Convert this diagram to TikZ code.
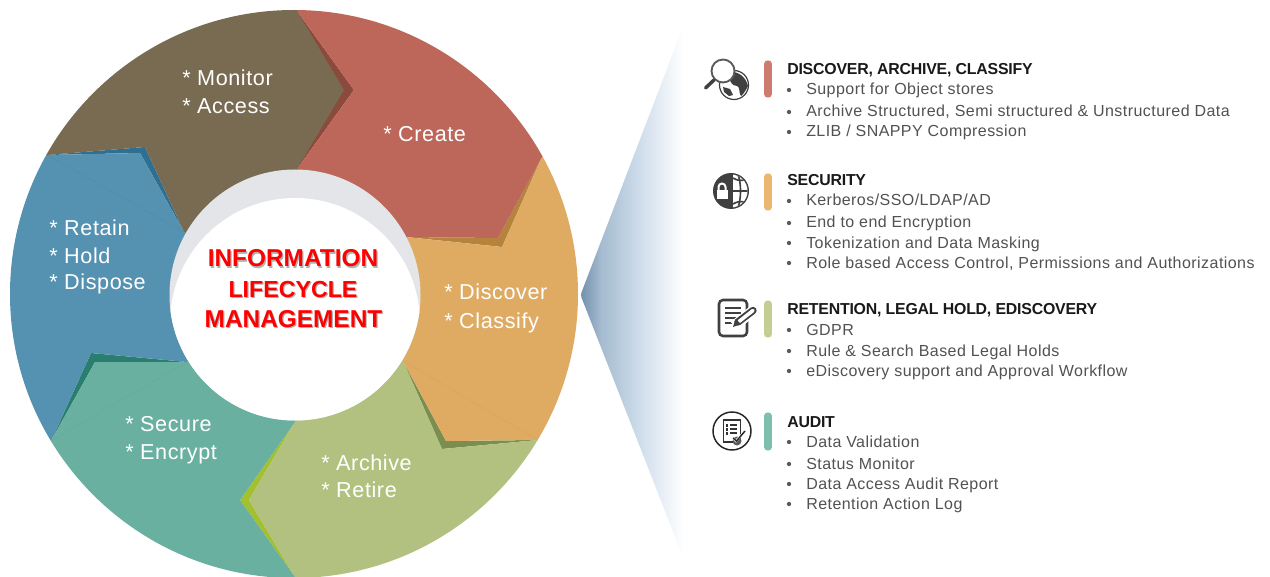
\documentclass[tikz,border=0pt]{standalone}
\usepackage{fontspec}
\setmainfont{Liberation Sans}
\newfontfamily\lifont[LetterSpace=2.8]{Liberation Sans}
\newfontfamily\segfont[LetterSpace=2.7]{Liberation Sans}
\newfontfamily\hdfont[LetterSpace=-1.3]{Liberation Sans Bold}
\definecolor{cbrown}{HTML}{786B52}
\definecolor{cred}{HTML}{BC675A}
\definecolor{corange}{HTML}{DFAB63}
\definecolor{cgreen}{HTML}{B3C180}
\definecolor{cteal}{HTML}{6AB0A0}
\definecolor{cblue}{HTML}{5591B1}
\definecolor{sred}{HTML}{8C4A3C}
\definecolor{sorange}{HTML}{B5833C}
\definecolor{sgreen}{HTML}{7A8F4F}
\definecolor{slime}{HTML}{A3C030}
\definecolor{steal}{HTML}{2A7E6F}
\definecolor{sblue}{HTML}{2F6F92}
\definecolor{ring}{HTML}{E3E5E8}
\definecolor{ictxt}{HTML}{404040}
\definecolor{fa}{HTML}{7490AC}
\definecolor{fb}{HTML}{A5BBD0}
\definecolor{fc}{HTML}{CFDDEB}
\pgfdeclarehorizontalshading{funnelshade}{100bp}{color(0bp)=(fa);color(25bp)=(fa);color(35bp)=(fb);color(54bp)=(fc);color(75bp)=(white);color(100bp)=(white)}
\tikzset{
  seg/.style={font=\segfont\fontsize{16.2pt}{18pt}\selectfont,text=white,anchor=base west,inner sep=0pt},
  ctr/.style={font=\bfseries\fontsize{18.3pt}{22pt}\selectfont,text=red,anchor=base,inner sep=0pt},
  ctrs/.style={font=\bfseries\fontsize{18.3pt}{22pt}\selectfont,text=black!30,anchor=base,inner sep=0pt},
  hd/.style={font=\hdfont\fontsize{11.9pt}{14pt}\selectfont,text=black!90,anchor=base west,inner sep=0pt},
  li/.style={font=\lifont\fontsize{12pt}{14pt}\selectfont,text=black!68,anchor=base west,inner sep=0pt},
  bul/.style={circle,fill=black!65,inner sep=0pt,minimum size=3.2pt},
  bar/.style={line width=5.5pt,line cap=round},
  ic/.style={draw=ictxt,line width=1.2pt},
  icf/.style={fill=ictxt},
  seam/.style={line width=0.3pt},
}
\newcommand{\bl}[3]{\node[li] (#1) at (806,#2) {#3};\node[bul] (#1b) at (789,#2-5) {};}
\begin{document}
\begin{tikzpicture}[x=0.75pt,y=-0.75pt]
\useasboundingbox (0,0) rectangle (1270,577);
\fill[white] (0,0) rectangle (1270,577);
% funnel
\shade[shading=funnelshade,rounded corners=2pt] (580.5,295) -- (683,27) -- (683,557) -- cycle;
% wheel
\begin{scope}
\clip (294,294) circle[radius=284];
\fill[sred] (297,11) -- (354,90) -- (297,169) -- cycle;
\fill[sorange] (406,237) -- (502,247) -- (541.5,158) -- (498,238) -- cycle;
\fill[sgreen] (403,361) -- (442,449) -- (538,440) -- (446,441) -- cycle;
\fill[slime] (295,422) -- (240,500) -- (295,577) -- (249,500) -- cycle;
\fill[steal] (187,362) -- (91,353) -- (51,441) -- (95,362) -- cycle;
\fill[sblue] (47,155) -- (145,147) -- (184,232) -- (140,153) -- cycle;
\fill[cred] (297,-100) -- (700,-100) -- (664,90) -- (541.5,158) -- (498,238) -- (406,237) -- (295,295) -- (297,169) -- (354,90) -- (297,11) -- cycle;
\fill[corange] (664,90) -- (750,90) -- (750,513) -- (660,513) -- (538,440) -- (446,441) -- (403,361) -- (295,295) -- (406,237) -- (502,247) -- (541.5,158) -- cycle;
\fill[cgreen] (660,513) -- (660,700) -- (295,700) -- (295,577) -- (249,500) -- (295,422) -- (295,295) -- (403,361) -- (442,449) -- (538,440) -- cycle;
\fill[cteal] (295,700) -- (-100,700) -- (-70,514) -- (51,441) -- (95,362) -- (187,362) -- (295,295) -- (295,422) -- (240,500) -- (295,577) -- cycle;
\fill[cblue] (-70,514) -- (-150,514) -- (-150,85) -- (-76,85) -- (47,155) -- (140,153) -- (184,232) -- (295,295) -- (187,362) -- (91,353) -- (51,441) -- cycle;
\fill[cbrown] (-76,85) -- (-150,-100) -- (297,-100) -- (297,11) -- (344,90) -- (297,169) -- (295,295) -- (184,232) -- (145,147) -- (47,155) -- cycle;
% faint seams
\draw[seam,cbrown!93!cred] (297,11) -- (297,169);
\draw[seam,cblue!96!black] (47,155) -- (184,232);
\draw[seam,cteal!96!black] (51,441) -- (187,362);
\draw[seam,corange!96!black] (403,361) -- (538,440);
\end{scope}
% hub
\fill[ring] (295,295) circle[radius=125.5];
\begin{scope}
\clip (295,295) circle[radius=125.5];
\fill[white] (295,323) circle[radius=125];
\end{scope}
% segment labels
\node[seg] (m1) at (182,86) {* Monitor};
\node[seg] (m2) at (182,114) {* Access};
\node[seg] (c1) at (383,142) {* Create};
\node[seg] (r1) at (49,236) {* Retain};
\node[seg] (r2) at (49,263) {* Hold};
\node[seg] (r3) at (49,290) {* Dispose};
\node[seg] (d1) at (444,300) {* Discover};
\node[seg] (d2) at (444,328) {* Classify};
\node[seg] (s1) at (125,431) {* Secure};
\node[seg] (s2) at (125,459) {* Encrypt};
\node[seg] (a1) at (321,470) {* Archive};
\node[seg] (a2) at (321,497) {* Retire};
% title
\node[ctrs] (t1s) at (294.2,268.4) {INFORMATION};
\node[ctrs,font=\bfseries\fontsize{17.4pt}{22pt}\selectfont] (t2s) at (294.2,298.9) {LIFECYCLE};
\node[ctrs] (t3s) at (294.7,328.9) {MANAGEMENT};
\node[ctr] (t1) at (293,267) {INFORMATION};
\node[ctr,font=\bfseries\fontsize{17.4pt}{22pt}\selectfont] (t2) at (293,297.5) {LIFECYCLE};
\node[ctr] (t3) at (293.5,327.5) {MANAGEMENT};
% bars
\draw[bar,color={rgb,255:red,205;green,123;blue,110}] (768,64) -- (768,94);
\draw[bar,color={rgb,255:red,232;green,184;blue,111}] (768,177) -- (768,207);
\draw[bar,color={rgb,255:red,195;green,207;blue,146}] (768,304) -- (768,334);
\draw[bar,color={rgb,255:red,124;green,191;blue,172}] (768,416) -- (768,447);
% icon 1
\draw[ictxt,line width=0.9pt] (734,85) circle[radius=14.5];
\fill[icf] (730,72) .. controls (738,71) and (746,77) .. (748,86) .. controls (746,90) and (743,95) .. (741,96) .. controls (738,92) and (741,88) .. (737,86) .. controls (732,86) and (728,81) .. (730,72) -- cycle;
\fill[icf] (723,87) -- (730,89) -- (733,95) -- (729,96) -- (724,92) -- cycle;
\fill[white] (723,71) circle[radius=12];
\draw[line width=1.4pt,color=black!65] (723,71) circle[radius=11.5];
\draw[line width=2.6pt,line cap=round,color=ictxt] (714,80) -- (705.5,88);
% icon 2
\fill[icf] (731,191) circle[radius=18];
\begin{scope}
\clip (731,191) circle[radius=16.5];
\fill[white] (733,170) rectangle (750,212);
\draw[ictxt,line width=1.2pt] (736,170) .. controls (742,180) and (742,202) .. (736,212);
\draw[ictxt,line width=1.2pt] (733,191) -- (750,191);
\draw[ictxt,line width=1.2pt] (733,178) .. controls (740,182) and (745,181) .. (750,176);
\draw[ictxt,line width=1.2pt] (733,204) .. controls (740,200) and (745,201) .. (750,206);
\end{scope}
\fill[white] (716.5,190.5) rectangle (727.5,199);
\draw[white,line width=1.5pt] (718.5,191) -- (718.5,187) arc[start angle=180,end angle=360,radius=3.5] -- (725.5,191);
% icon 3
\draw[ic,line width=1.9pt,rounded corners=3pt] (719,300) rectangle (747,336);
\draw[ictxt,line width=1.4pt] (725,308) -- (741,308) (725,313) -- (741,313) (725,318) -- (739,318) (725,323) -- (735,323);
\draw[white,line width=8pt] (734,326) -- (754,310);
\draw[ictxt,line width=5.5pt,line cap=round] (738,322) -- (753,310.5);
\draw[white,line width=2.7pt,line cap=round] (739,321.5) -- (753,310.5);
\fill[icf] (733,327) -- (735.5,319) -- (741,324) -- cycle;
% icon 4
\draw[line width=1.1pt,color=black!85] (732,431) circle[radius=19];
\draw[line width=1pt,color=black!80] (723.5,420) rectangle (740.5,442);
\draw[line width=1.2pt,dash pattern=on 2pt off 1pt,color=black!80] (727,424) -- (727,436);
\draw[line width=1.1pt,color=black!80] (730,425) -- (737,425) (730,429) -- (737,429) (730,433) -- (737,433);
\fill[black!65] (737,441) circle[radius=4.5];
\draw[white,line width=1.8pt] (732,437) -- (736,441) -- (746,430);
\draw[black!85,line width=1.1pt] (733,438) -- (736.5,441) -- (745,431);
% right text
\node[hd] (h1) at (787,75) {DISCOVER, ARCHIVE, CLASSIFY};
\bl{l11}{95}{Support for Object stores}
\bl{l12}{117}{Archive Structured, Semi structured \& Unstructured Data}
\bl{l13}{137}{ZLIB / SNAPPY Compression}
\node[hd] (h2) at (787,186) {SECURITY};
\bl{l21}{206}{Kerberos/SSO/LDAP/AD}
\bl{l22}{228}{End to end Encryption}
\bl{l23}{248}{Tokenization and Data Masking}
\bl{l24}{268}{Role based Access Control, Permissions and Authorizations}
\node[hd] (h3) at (787,314) {RETENTION, LEGAL HOLD, EDISCOVERY};
\bl{l31}{335}{GDPR}
\bl{l32}{356}{Rule \& Search Based Legal Holds}
\bl{l33}{376}{eDiscovery support and Approval Workflow}
\node[hd] (h4) at (787,427) {AUDIT};
\bl{l41}{447}{Data Validation}
\bl{l42}{469}{Status Monitor}
\bl{l43}{489}{Data Access Audit Report}
\bl{l44}{509}{Retention Action Log}
\end{tikzpicture}
\end{document}
